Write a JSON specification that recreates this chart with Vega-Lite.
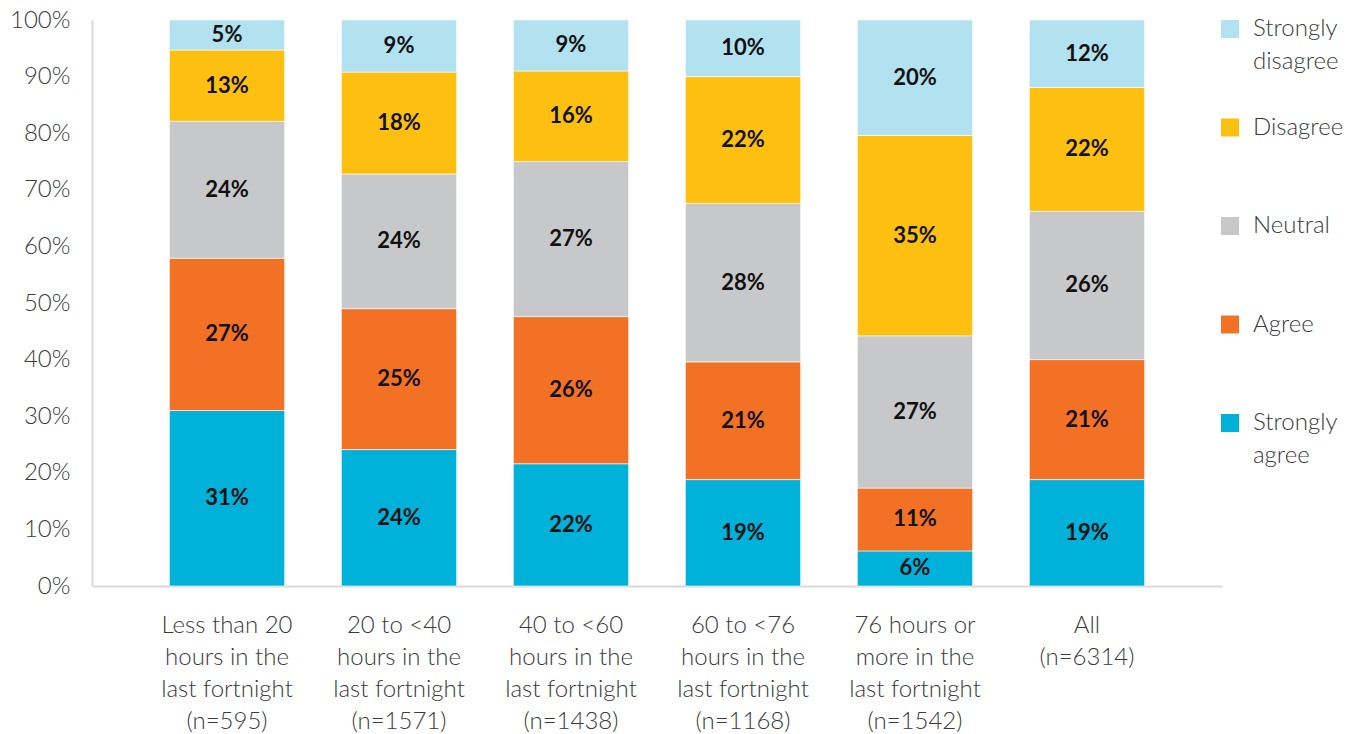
{
  "$schema": "https://vega.github.io/schema/vega-lite/v6.json",
  "width": 1130,
  "height": 566,
  "autosize": {"type": "none"},
  "padding": {"left": 92, "top": 20, "right": 150, "bottom": 148},
  "background": "#ffffff",
  "config": {
    "view": {"stroke": null},
    "font": "Lato",
    "style": {"guide-label": {"lineHeight": 33}},
    "axis": {"labelFont": "Lato", "labelFontWeight": 300, "labelColor": "#3a3a3a", "labelFontSize": 24, "domainColor": "#d9d9d9", "domainWidth": 2, "ticks": false, "grid": false, "title": null},
    "legend": {"labelFont": "Lato", "labelFontWeight": 300, "labelColor": "#3a3a3a", "labelFontSize": 24}
  },
  "data": {
    "values": [
      {"group": "Less than 20|hours in the|last fortnight|(n=595)", "response": "Strongly agree", "rank": 1, "share": 0.310},
      {"group": "Less than 20|hours in the|last fortnight|(n=595)", "response": "Agree", "rank": 2, "share": 0.269},
      {"group": "Less than 20|hours in the|last fortnight|(n=595)", "response": "Neutral", "rank": 3, "share": 0.242},
      {"group": "Less than 20|hours in the|last fortnight|(n=595)", "response": "Disagree", "rank": 4, "share": 0.126},
      {"group": "Less than 20|hours in the|last fortnight|(n=595)", "response": "Strongly disagree", "rank": 5, "share": 0.053},
      {"group": "20 to <40|hours in the|last fortnight|(n=1571)", "response": "Strongly agree", "rank": 1, "share": 0.241},
      {"group": "20 to <40|hours in the|last fortnight|(n=1571)", "response": "Agree", "rank": 2, "share": 0.249},
      {"group": "20 to <40|hours in the|last fortnight|(n=1571)", "response": "Neutral", "rank": 3, "share": 0.238},
      {"group": "20 to <40|hours in the|last fortnight|(n=1571)", "response": "Disagree", "rank": 4, "share": 0.180},
      {"group": "20 to <40|hours in the|last fortnight|(n=1571)", "response": "Strongly disagree", "rank": 5, "share": 0.092},
      {"group": "40 to <60|hours in the|last fortnight|(n=1438)", "response": "Strongly agree", "rank": 1, "share": 0.216},
      {"group": "40 to <60|hours in the|last fortnight|(n=1438)", "response": "Agree", "rank": 2, "share": 0.260},
      {"group": "40 to <60|hours in the|last fortnight|(n=1438)", "response": "Neutral", "rank": 3, "share": 0.274},
      {"group": "40 to <60|hours in the|last fortnight|(n=1438)", "response": "Disagree", "rank": 4, "share": 0.160},
      {"group": "40 to <60|hours in the|last fortnight|(n=1438)", "response": "Strongly disagree", "rank": 5, "share": 0.090},
      {"group": "60 to <76|hours in the|last fortnight|(n=1168)", "response": "Strongly agree", "rank": 1, "share": 0.188},
      {"group": "60 to <76|hours in the|last fortnight|(n=1168)", "response": "Agree", "rank": 2, "share": 0.208},
      {"group": "60 to <76|hours in the|last fortnight|(n=1168)", "response": "Neutral", "rank": 3, "share": 0.280},
      {"group": "60 to <76|hours in the|last fortnight|(n=1168)", "response": "Disagree", "rank": 4, "share": 0.224},
      {"group": "60 to <76|hours in the|last fortnight|(n=1168)", "response": "Strongly disagree", "rank": 5, "share": 0.100},
      {"group": "76 hours or|more in the|last fortnight|(n=1542)", "response": "Strongly agree", "rank": 1, "share": 0.062},
      {"group": "76 hours or|more in the|last fortnight|(n=1542)", "response": "Agree", "rank": 2, "share": 0.111},
      {"group": "76 hours or|more in the|last fortnight|(n=1542)", "response": "Neutral", "rank": 3, "share": 0.269},
      {"group": "76 hours or|more in the|last fortnight|(n=1542)", "response": "Disagree", "rank": 4, "share": 0.354},
      {"group": "76 hours or|more in the|last fortnight|(n=1542)", "response": "Strongly disagree", "rank": 5, "share": 0.204},
      {"group": "All|(n=6314)", "response": "Strongly agree", "rank": 1, "share": 0.188},
      {"group": "All|(n=6314)", "response": "Agree", "rank": 2, "share": 0.212},
      {"group": "All|(n=6314)", "response": "Neutral", "rank": 3, "share": 0.262},
      {"group": "All|(n=6314)", "response": "Disagree", "rank": 4, "share": 0.219},
      {"group": "All|(n=6314)", "response": "Strongly disagree", "rank": 5, "share": 0.119}
    ]
  },
  "transform": [
    {"stack": "share", "groupby": ["group"], "sort": [{"field": "rank", "order": "ascending"}], "as": ["y0", "y1"]},
    {"calculate": "(datum.y0 + datum.y1) / 2", "as": "mid"}
  ],
  "encoding": {
    "x": {
      "field": "group", "type": "nominal", "sort": null,
      "scale": {"paddingInner": 0.33, "paddingOuter": 0.45},
      "axis": {"labelAngle": 0, "labelExpr": "split(datum.label, '|')", "labelLineHeight": 32, "labelBaseline": "top", "labelPadding": 27, "labelLimit": 300}
    }
  },
  "layer": [
    {
      "mark": {"type": "bar", "stroke": "#ffffff", "strokeWidth": 0.6},
      "encoding": {
        "y": {"field": "y0", "type": "quantitative", "scale": {"domain": [0, 1], "nice": false}, "axis": {"values": [0, 0.1, 0.2, 0.3, 0.4, 0.5, 0.6, 0.7, 0.8, 0.9, 1], "format": ".0%", "labelPadding": 22}},
        "y2": {"field": "y1"},
        "color": {
          "field": "response", "type": "nominal",
          "scale": {"domain": ["Strongly disagree", "Disagree", "Neutral", "Agree", "Strongly agree"], "range": ["#b2e1f0", "#fdc010", "#c7c8ca", "#f37125", "#00b2d9"]},
          "legend": {
            "title": null, "orient": "none", "legendX": 1126, "legendY": -3,
            "symbolType": "square", "symbolSize": 324, "symbolStrokeWidth": 0, "symbolOpacity": 1,
            "labelExpr": "[split(datum.label, ' ')[0], length(split(datum.label, ' ')) > 1 ? split(datum.label, ' ')[1] : ' ']",
            "labelOffset": 11, "labelBaseline": "middle",
            "rowPadding": 41.5, "labelLimit": 200
          }
        }
      }
    },
    {
      "mark": {"type": "text", "fontWeight": "bold", "fontSize": 22, "color": "#111111", "font": "Lato"},
      "encoding": {
        "y": {"field": "mid", "type": "quantitative"},
        "text": {"field": "share", "type": "quantitative", "format": ".0%"}
      }
    }
  ]
}
